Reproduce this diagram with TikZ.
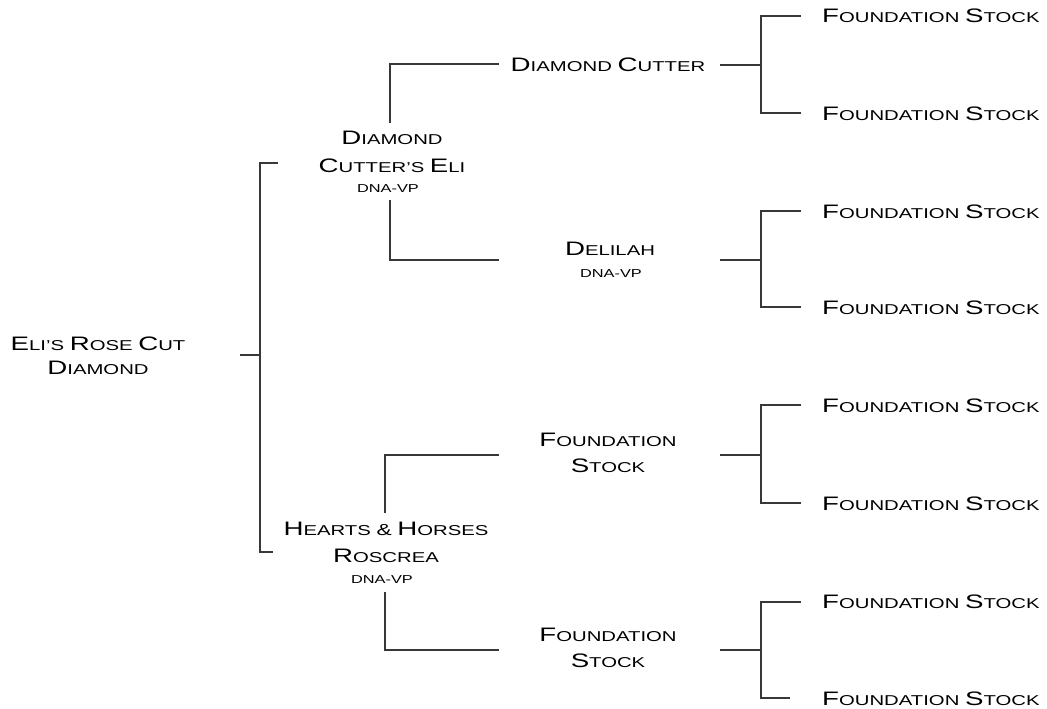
\documentclass[tikz,border=0pt]{standalone}
\usepackage{fontspec}
\setmainfont{Liberation Sans}[FakeStretch=1.42]
\newcommand\Bg[1]{{\fontsize{19.5}{24}\selectfont #1}}
\begin{document}
\begin{tikzpicture}[x=1pt,y=-1pt,
  conn/.style={draw=black!78, line width=1.4pt},
  lbl/.style={inner sep=0pt, align=center, text=black, font=\fontsize{14.3}{24}\selectfont},
  tiny/.style={inner sep=0pt, text=black, font=\fontsize{11.5}{12}\selectfont, anchor=base},
  leaf/.style={inner sep=0pt, text=black, font=\fontsize{14.3}{24}\selectfont, anchor=base west}]
\useasboundingbox (0,0) rectangle (1047,709);

% ---- labels ----
\node[lbl, anchor=north] (root) at (98,337) {\Bg{E}LI'S \Bg{R}OSE \Bg{C}UT\\\Bg{D}IAMOND};

\node[lbl, anchor=north, font=\fontsize{14.3}{28}\selectfont] (dce) at (392,131) {\Bg{D}IAMOND\\\Bg{C}UTTER'S \Bg{E}LI};
\node[tiny] (dcedna) at (388,192) {DNA-VP};

\node[lbl, anchor=base] (dc) at (608,71) {\Bg{D}IAMOND \Bg{C}UTTER};

\node[lbl, anchor=base] (del) at (610,255) {\Bg{D}ELILAH};
\node[tiny] (deldna) at (611,277) {DNA-VP};

\node[lbl, anchor=north, font=\fontsize{14.3}{27}\selectfont] (hh) at (386,522) {\Bg{H}EARTS {\fontsize{16}{20}\selectfont\&} \Bg{H}ORSES\\\Bg{R}OSCREA};
\node[tiny] (hhdna) at (382,583) {DNA-VP};

\node[lbl, anchor=north, font=\fontsize{14.3}{26}\selectfont] (fsa) at (608,433) {\Bg{F}OUNDATION\\\Bg{S}TOCK};
\node[lbl, anchor=north, font=\fontsize{14.3}{26}\selectfont] (fsb) at (608,628) {\Bg{F}OUNDATION\\\Bg{S}TOCK};

\foreach \i/\y in {1/23,2/120,3/218,4/314,5/412,6/510,7/608,8/705}
  \node[leaf] (leaf\i) at (822,\y) {\Bg{F}OUNDATION \Bg{S}TOCK};

% ---- connector points ----
\coordinate (r0) at (240,355); \coordinate (r1) at (260,355);
\coordinate (rt) at (260,163); \coordinate (rte) at (278,163);
\coordinate (rb) at (260,552); \coordinate (rbe) at (273,552);

\coordinate (a0) at (390,123); \coordinate (a1) at (390,64); \coordinate (a2) at (499,64);
\coordinate (b0) at (390,200); \coordinate (b1) at (390,260); \coordinate (b2) at (499,260);
\coordinate (c0) at (385,513); \coordinate (c1) at (385,455); \coordinate (c2) at (499,455);
\coordinate (d0) at (385,592); \coordinate (d1) at (385,650); \coordinate (d2) at (499,650);

% ---- connectors ----
\draw[conn] (r0) -- (r1);
\draw[conn] (rte) -- (rt) -- (rb) -- (rbe);
\draw[conn] (a0) -- (a1) -- (a2);
\draw[conn] (b0) -- (b1) -- (b2);
\draw[conn] (c0) -- (c1) -- (c2);
\draw[conn] (d0) -- (d1) -- (d2);

\foreach \y/\t/\b/\bl in {65/16/113/801, 260/211/307/801, 455/405/503/801, 650/602/698/790}{
  \coordinate (s0) at (720,\y);
  \coordinate (s1) at (761,\y);
  \coordinate (st) at (761,\t);
  \coordinate (ste) at (801,\t);
  \coordinate (sb) at (761,\b);
  \coordinate (sbe) at (\bl,\b);
  \draw[conn] (s0) -- (s1);
  \draw[conn] (ste) -- (st) -- (sb) -- (sbe);
}
\end{tikzpicture}
\end{document}
